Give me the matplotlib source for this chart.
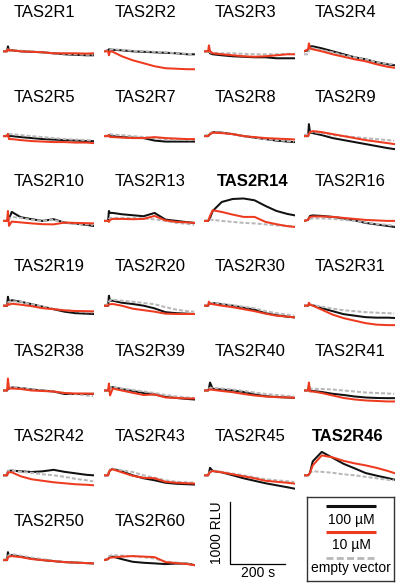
import matplotlib
matplotlib.use('Agg')
import matplotlib.pyplot as plt

plt.rcParams['font.family'] = ['Liberation Sans', 'DejaVu Sans']

# ---------------- data (change in RLU from the start) -------------
TIME_S = [0, 15, 18, 22, 32, 65, 105, 145, 185, 225, 265, 305, 330]

RECEPTORS = ['TAS2R1', 'TAS2R2', 'TAS2R3', 'TAS2R4',
             'TAS2R5', 'TAS2R7', 'TAS2R8', 'TAS2R9',
             'TAS2R10', 'TAS2R13', 'TAS2R14', 'TAS2R16',
             'TAS2R19', 'TAS2R20', 'TAS2R30', 'TAS2R31',
             'TAS2R38', 'TAS2R39', 'TAS2R40', 'TAS2R41',
             'TAS2R42', 'TAS2R43', 'TAS2R45', 'TAS2R46',
             'TAS2R50', 'TAS2R60']
BOLD = ['TAS2R14', 'TAS2R46']

RLU_100UM = {
    'TAS2R1':  [0, 0, 80, 16, 16, 0, -8, -16, -32, -48, -56, -64, -64],
    'TAS2R2':  [0, 16, 32, 32, 24, 16, 0, -8, -16, -24, -32, -48, -48],
    'TAS2R3':  [0, 0, 16, -32, -48, -64, -80, -88, -96, -96, -112, -112, -112],
    'TAS2R4':  [0, 16, 48, 80, 80, 48, 0, -48, -96, -128, -176, -208, -224],
    'TAS2R5':  [0, 0, 32, 0, 0, -16, -32, -48, -56, -64, -72, -80, -80],
    'TAS2R7':  [0, 0, 16, 0, 0, -16, -24, -32, -72, -88, -88, -88, -88],
    'TAS2R8':  [0, 0, 16, 32, 64, 56, 32, 0, -24, -48, -72, -88, -96],
    'TAS2R9':  [0, 0, 192, 57, 48, 16, -32, -64, -96, -128, -160, -192, -208],
    'TAS2R10': [0, 0, 32, 32, 144, 59, 27, 0, 27, -27, -43, -64, -80],
    'TAS2R13': [0, 0, 160, 128, 128, 107, 91, 75, 128, 21, 0, -21, -32],
    'TAS2R14': [0, 0, 16, 48, 160, 304, 352, 360, 331, 240, 160, 112, 91],
    'TAS2R16': [0, 16, 48, 80, 88, 80, 64, 40, 8, -32, -56, -80, -96],
    'TAS2R19': [0, 0, 144, 64, 88, 64, 24, -16, -56, -96, -120, -128, -133],
    'TAS2R20': [0, 0, 160, 80, 80, 48, 27, 0, -43, -104, -120, -128, -133],
    'TAS2R30': [0, 0, 32, 40, 43, 24, 0, -32, -64, -120, -152, -176, -187],
    'TAS2R31': [0, 0, 16, 16, 8, -40, -88, -136, -160, -184, -192, -192, -197],
    'TAS2R38': [0, 0, 32, 32, 48, 40, 16, 0, -16, -56, -56, -56, -53],
    'TAS2R39': [0, 0, 32, 48, 53, 24, -8, -40, -64, -101, -120, -136, -144],
    'TAS2R40': [0, 0, 32, 128, 27, 16, 0, -24, -64, -91, -104, -112, -117],
    'TAS2R41': [0, 0, 80, 0, -8, -24, -53, -72, -96, -112, -120, -123, -123],
    'TAS2R42': [0, 0, 64, 72, 75, 64, 53, 64, 88, 56, 32, 8, 0],
    'TAS2R43': [0, 0, 48, 80, 104, 64, 0, -48, -80, -120, -136, -144, -149],
    'TAS2R45': [0, 0, 32, 120, 69, 48, 0, -48, -88, -128, -160, -192, -213],
    'TAS2R46': [0, 0, 16, 40, 224, 376, 280, 184, 112, 37, -5, -43, -69],
    'TAS2R50': [0, 0, 128, 64, 80, 56, 24, 0, -16, -32, -40, -48, -53],
    'TAS2R60': [0, 16, 32, 48, 56, 16, -27, -43, -53, -64, -56, -56, -80],
}

RLU_10UM = {
    'TAS2R1':  [0, 0, 32, 16, 16, 0, -8, -16, -32, -32, -32, -37, -32],
    'TAS2R2':  [0, 0, -64, 0, -8, -80, -144, -192, -240, -272, -280, -288, -288],
    'TAS2R3':  [0, 0, 96, 0, -32, -48, -64, -80, -88, -80, -64, -48, -48],
    'TAS2R4':  [0, 32, 128, 48, 32, 0, -48, -88, -128, -160, -208, -248, -264],
    'TAS2R5':  [0, 0, 32, -48, -48, -64, -80, -88, -96, -96, -104, -104, -112],
    'TAS2R7':  [0, 0, 16, -16, -16, -24, -32, -32, -16, -32, -40, -48, -48],
    'TAS2R8':  [0, 0, 16, 32, 56, 48, 32, 0, -16, -32, -40, -48, -53],
    'TAS2R9':  [0, 0, 32, 64, 80, 64, 32, 0, -32, -64, -88, -112, -128],
    'TAS2R10': [0, 0, 160, -80, -11, -24, -40, -53, -56, -27, -32, -37, -40],
    'TAS2R13': [0, 0, -16, 16, 32, 32, 27, 32, 80, 8, -16, -24, -32],
    'TAS2R14': [0, 0, 32, 80, 171, 144, 101, 64, 64, -16, -53, -85, -96],
    'TAS2R16': [0, 16, 48, 64, 72, 72, 64, 48, 32, 16, 8, 0, 0],
    'TAS2R19': [0, 0, 32, 16, 32, 16, -8, -40, -56, -75, -85, -88, -91],
    'TAS2R20': [0, 0, 16, 24, 27, 0, -48, -72, -96, -128, -133, -133, -133],
    'TAS2R30': [0, 0, 64, 32, 24, 0, -24, -56, -88, -128, -160, -176, -187],
    'TAS2R31': [0, 0, 48, 16, 0, -64, -144, -200, -240, -280, -304, -312, -312],
    'TAS2R38': [0, 0, 192, 32, 32, 24, 0, -8, -16, -40, -48, -48, -53],
    'TAS2R39': [0, 0, 112, -80, 32, 0, -37, -72, -64, -112, -120, -128, -128],
    'TAS2R40': [0, 0, 16, 16, 11, -8, -27, -56, -80, -96, -107, -112, -117],
    'TAS2R41': [0, 0, 128, -16, -16, -40, -80, -120, -144, -160, -168, -176, -176],
    'TAS2R42': [0, 0, 48, 48, 48, -16, -64, -88, -112, -128, -144, -152, -160],
    'TAS2R43': [0, 0, 48, 80, 96, 48, -8, -40, -48, -104, -120, -128, -133],
    'TAS2R45': [0, 0, 32, 48, 69, 48, 16, -16, -48, -88, -104, -120, -133],
    'TAS2R46': [0, 0, 16, 40, 160, 320, 288, 232, 192, 160, 120, 72, 37],
    'TAS2R50': [0, 0, 48, 56, 64, 48, 16, 0, -16, -32, -40, -48, -53],
    'TAS2R60': [0, 16, 32, 40, 43, 56, 64, 56, 48, -32, -48, -64, -80],
}

RLU_EMPTY = {
    'TAS2R1':  [0, 0, 32, 16, 24, 8, 0, -16, -32, -40, -48, -56, -56],
    'TAS2R2':  [0, 16, 32, 32, 32, 24, 8, 0, -8, -16, -32, -40, -48],
    'TAS2R3':  [0, 0, 16, -16, -24, -32, -32, -40, -48, -48, -48, -40, -40],
    'TAS2R4':  [-48, -48, 0, 48, 48, 16, -16, -64, -96, -128, -176, -200, -208],
    'TAS2R5':  [0, 16, 32, 32, 32, 16, 0, -16, -32, -48, -56, -64, -72],
    'TAS2R7':  [0, 16, 32, 32, 24, 16, 0, -16, -32, -48, -56, -64, -64],
    'TAS2R8':  [0, 32, 48, 48, 64, 56, 32, 0, -24, -48, -64, -80, -88],
    'TAS2R9':  [16, 32, 48, 64, 64, 48, 16, 0, -16, -32, -48, -64, -72],
    'TAS2R10': [0, 0, 32, 32, 64, 48, 16, 0, 16, -32, -48, -56, -64],
    'TAS2R13': [0, 0, 32, 48, 48, 48, 48, 40, 24, 0, -32, -48, -64],
    'TAS2R14': [0, 0, 16, 24, 16, 0, -16, -32, -40, -56, -72, -80, -88],
    'TAS2R16': [0, 16, 32, 32, 40, 40, 32, 16, 0, -24, -48, -64, -80],
    'TAS2R19': [0, 16, 48, 64, 72, 64, 24, -16, -48, -72, -88, -104, -107],
    'TAS2R20': [0, 32, 64, 88, 96, 80, 64, 43, 24, -24, -64, -88, -96],
    'TAS2R30': [0, 16, 32, 40, 43, 32, 8, -16, -40, -88, -120, -144, -160],
    'TAS2R31': [0, 0, 16, 16, 8, -16, -48, -72, -88, -104, -112, -120, -123],
    'TAS2R38': [0, 0, 32, 40, 48, 40, 16, 0, -16, -40, -56, -80, -91],
    'TAS2R39': [0, 0, 48, 48, 53, 32, 8, -16, -40, -72, -96, -112, -120],
    'TAS2R40': [0, 0, 32, 40, 43, 32, 16, -8, -32, -56, -72, -88, -96],
    'TAS2R41': [0, 0, 32, 32, 27, 24, 16, 0, -16, -32, -40, -48, -53],
    'TAS2R42': [0, 0, 56, 72, 75, 56, 40, 16, 0, -24, -56, -80, -96],
    'TAS2R43': [0, 16, 64, 96, 107, 80, 53, 0, -40, -80, -104, -112, -120],
    'TAS2R45': [0, 0, 32, 56, 80, 56, 27, 0, -32, -64, -80, -96, -107],
    'TAS2R46': [0, 0, 16, 40, 64, 56, 40, 16, 0, -24, -48, -72, -80],
    'TAS2R50': [0, 32, 64, 80, 96, 72, 40, 16, -8, -32, -40, -48, -53],
    'TAS2R60': [0, 32, 64, 72, 80, 72, 64, 48, 24, -24, -40, -56, -80],
}

SCALE_RLU = 1000
SCALE_S = 200
LEGEND_LABELS = ['100 \u00b5M', '10 \u00b5M', 'empty vector']

# ---------------- styling / layout -----------------
W, H = 400, 585
C_BLACK = '#111111'
C_RED = '#ee3a1e'
C_GREY = '#b8b8b8'
COL_X = [3, 104, 204, 304]
PANEL_W = 91
PANEL_H = 64
XLIM = (0, 333)
YLIM = (-514, 514)
ROW_PITCH = 84.8
TITLE_BASE0 = 16.8
TRACE0 = 51.3
LW = 1.45

fig = plt.figure(figsize=(W / 100, H / 100), dpi=100)


def fx(px):
    return px / W


def fy(py):
    return 1 - py / H


for i, name in enumerate(RECEPTORS):
    r, c = divmod(i, 4)
    y0 = TRACE0 + ROW_PITCH * r
    ax = fig.add_axes([fx(COL_X[c]), fy(y0 + PANEL_H / 2), PANEL_W / W, PANEL_H / H])
    ax.set_xlim(*XLIM)
    ax.set_ylim(*YLIM)
    ax.axis('off')
    ax.plot(TIME_S, RLU_100UM[name], color=C_BLACK, lw=LW)
    ax.plot(TIME_S, RLU_EMPTY[name], color=C_GREY, lw=LW, linestyle=(0, (2, 1)))
    ax.plot(TIME_S, RLU_10UM[name], color=C_RED, lw=LW)
    bold = name in BOLD
    xoff = 10.5
    if name == 'TAS2R46':
        xoff = 7.7
    elif name == 'TAS2R14':
        xoff = 12.5
    fig.text(fx(COL_X[c] + xoff), fy(TITLE_BASE0 + ROW_PITCH * r), name,
             fontsize=12, ha='left', va='baseline',
             fontweight='bold' if bold else 'normal')

# scale bar (same data scale as the panels)
sb_h = SCALE_RLU / (YLIM[1] - YLIM[0]) * PANEL_H
sb_w = SCALE_S / (XLIM[1] - XLIM[0]) * PANEL_W
sx, sy = 230.3, 564.0
sax = fig.add_axes([fx(sx), fy(sy), sb_w / W, sb_h / H])
sax.set_xlim(0, SCALE_S)
sax.set_ylim(0, SCALE_RLU)
sax.axis('off')
sax.plot([0, 0, SCALE_S], [SCALE_RLU, 0, 0], color='black', lw=0.9,
         clip_on=False, solid_joinstyle='miter')
fig.text(fx(221), fy(532.5), f'{SCALE_RLU} RLU', rotation=90,
         rotation_mode='anchor', ha='center', va='baseline', fontsize=10)
fig.text(fx(257.7), fy(577.3), f'{SCALE_S} s', ha='center', va='baseline', fontsize=10)

# legend box
lx0, ly0, lx1, ly1 = 307.3, 496.7, 394, 580.7
lax = fig.add_axes([fx(lx0), fy(ly1), (lx1 - lx0) / W, (ly1 - ly0) / H])
lax.set_xlim(0, 1)
lax.set_ylim(0, 1)
lax.set_xticks([])
lax.set_yticks([])
for sp in lax.spines.values():
    sp.set_linewidth(1.0)
    sp.set_color('#333333')
lax.plot([0.216, 0.792], [0.889, 0.889], color=C_BLACK, lw=2.2, solid_capstyle='butt')
lax.plot([0.216, 0.792], [0.583, 0.583], color=C_RED, lw=2.2, solid_capstyle='butt')
lax.plot([0.216, 0.792], [0.267, 0.267], color=C_GREY, lw=2.0, linestyle=(0, (2.5, 1.2)))
lax.text(0.504, 0.675, LEGEND_LABELS[0], ha='center', va='baseline', fontsize=10)
lax.text(0.504, 0.377, LEGEND_LABELS[1], ha='center', va='baseline', fontsize=10)
lax.text(0.504, 0.104, LEGEND_LABELS[2], ha='center', va='baseline', fontsize=10)

fig.savefig('out.png', dpi=100)
